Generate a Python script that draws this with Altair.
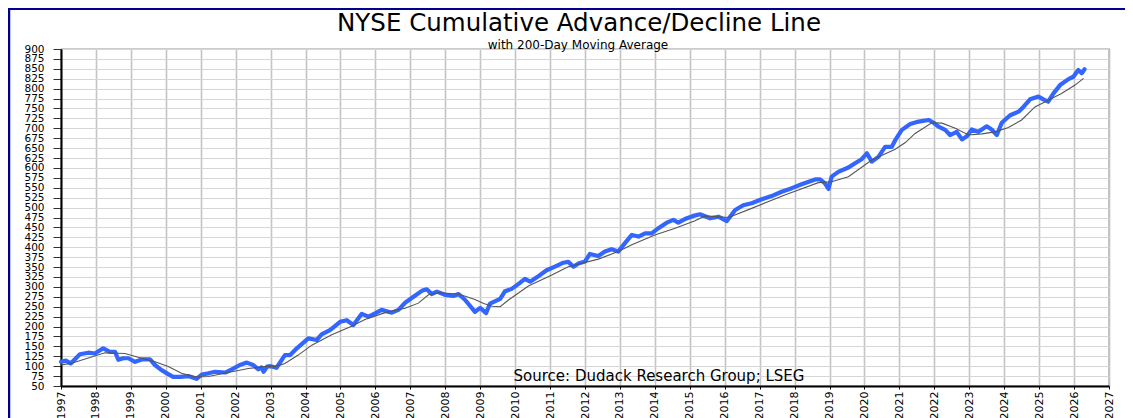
import altair as alt
import pandas as pd

# ---- data ----
ad_years = [1997.00, 1997.14, 1997.28, 1997.54, 1997.78, 1997.97, 1998.21, 1998.40, 1998.55, 1998.64,
            1998.78, 1998.93, 1999.12, 1999.31, 1999.55, 1999.69, 1999.88, 2000.07, 2000.21, 2000.41,
            2000.64, 2000.88, 2001.03, 2001.22, 2001.41, 2001.70, 2001.89, 2002.12, 2002.32, 2002.50,
            2002.65, 2002.74, 2002.80, 2002.90, 2003.00, 2003.17, 2003.41, 2003.56, 2003.75, 2004.08,
            2004.32, 2004.46, 2004.70, 2004.99, 2005.18, 2005.37, 2005.61, 2005.80, 2005.99, 2006.18,
            2006.47, 2006.66, 2006.85, 2007.09, 2007.33, 2007.47, 2007.61, 2007.76, 2007.99, 2008.23,
            2008.38, 2008.57, 2008.85, 2009.00, 2009.17, 2009.28, 2009.57, 2009.71, 2009.90, 2010.09,
            2010.28, 2010.43, 2010.62, 2010.90, 2011.14, 2011.38, 2011.52, 2011.67, 2011.81, 2012.00,
            2012.14, 2012.38, 2012.57, 2012.76, 2012.95, 2013.15, 2013.34, 2013.53, 2013.72, 2013.91,
            2014.10, 2014.34, 2014.53, 2014.67, 2014.86, 2015.10, 2015.29, 2015.58, 2015.82, 2016.06,
            2016.30, 2016.53, 2016.77, 2017.06, 2017.34, 2017.63, 2017.92, 2018.20, 2018.59, 2018.73,
            2018.87, 2018.97, 2019.06, 2019.25, 2019.54, 2019.73, 2019.92, 2020.07, 2020.21, 2020.40,
            2020.59, 2020.78, 2020.88, 2021.07, 2021.31, 2021.55, 2021.84, 2021.98, 2022.12, 2022.31,
            2022.45, 2022.64, 2022.79, 2022.93, 2023.07, 2023.26, 2023.50, 2023.64, 2023.79, 2023.93,
            2024.17, 2024.41, 2024.55, 2024.74, 2024.98, 2025.12, 2025.26, 2025.41, 2025.60, 2025.84,
            2025.98, 2026.12, 2026.22, 2026.30]
ad_values = [111, 114, 107, 130, 134, 132, 145, 136, 136, 116,
             120, 120, 111, 117, 117, 103, 90, 80, 73, 73,
             75, 68, 79, 82, 86, 84, 92, 103, 109, 103,
             92, 97, 86, 99, 100, 96, 128, 128, 145, 170,
             166, 180, 191, 212, 216, 204, 232, 225, 233, 242,
             235, 242, 260, 275, 290, 294, 282, 288, 280, 277,
             282, 267, 237, 247, 234, 258, 270, 289, 295, 307,
             320, 313, 324, 342, 351, 361, 363, 351, 359, 364,
             383, 378, 389, 395, 389, 411, 431, 427, 435, 435,
             448, 462, 469, 462, 471, 479, 483, 473, 477, 466,
             494, 506, 511, 521, 529, 540, 549, 559, 571, 571,
             561, 547, 578, 590, 601, 612, 622, 637, 616, 628,
             653, 653, 670, 696, 711, 717, 721, 714, 704, 696,
             683, 691, 672, 680, 697, 691, 705, 697, 683, 714,
             733, 742, 754, 773, 780, 773, 767, 788, 809, 824,
             830, 847, 839, 849]

ma_years = [1997.00, 1997.28, 1998.26, 1998.83, 1999.31, 1999.69, 2000.07, 2000.45, 2000.84, 2001.22,
            2001.79, 2002.36, 2002.94, 2003.13, 2003.41, 2003.79, 2004.18, 2004.75, 2005.32, 2005.70,
            2006.28, 2006.85, 2007.23, 2007.52, 2007.80, 2008.38, 2008.85, 2009.10, 2009.35, 2009.57,
            2009.81, 2010.38, 2011.05, 2011.52, 2012.38, 2012.95, 2013.34, 2014.00, 2014.58, 2015.15,
            2015.44, 2016.11, 2016.77, 2017.72, 2018.68, 2019.06, 2019.54, 2020.21, 2020.88, 2021.17,
            2021.45, 2021.93, 2022.22, 2022.60, 2022.98, 2023.36, 2023.74, 2024.12, 2024.50, 2024.88,
            2025.26, 2025.64, 2026.03, 2026.27]
ma_values = [103, 107, 134, 132, 120, 111, 99, 82, 73, 74,
             84, 94, 100, 99, 107, 128, 153, 179, 201, 218,
             235, 246, 259, 280, 285, 282, 268, 258, 251, 250,
             267, 302, 330, 351, 370, 389, 406, 431, 448, 467,
             479, 475, 498, 532, 563, 565, 578, 620, 647, 664,
             687, 714, 713, 700, 683, 686, 691, 702, 721, 754,
             771, 788, 809, 826]

x_ticks = list(range(1997, 2028))
y_ticks = list(range(50, 925, 25))

TITLE = "NYSE Cumulative Advance/Decline Line"
SUBTITLE = "with 200-Day Moving Average"
SOURCE = "Source: Dudack Research Group; LSEG"

FONT = "DejaVu Sans"

ad_df = pd.DataFrame({"year": ad_years, "value": ad_values})
ma_df = pd.DataFrame({"year": ma_years, "value": ma_values})

x_axis = alt.Axis(values=x_ticks, format="d", labelAngle=270, title=None,
                  labelFont=FONT, labelFontSize=11, labelColor="black",
                  tickSize=3, labelPadding=2, tickColor="black",
                  domainColor="black", domainWidth=2,
                  gridColor="#c4c4c4", gridWidth=1.6,
                  labelFlush=False, labelOverlap=False)
y_axis = alt.Axis(values=y_ticks, title=None,
                  labelFont=FONT, labelFontSize=10.5, labelColor="black",
                  tickSize=8, labelPadding=9, tickColor="#333333",
                  domainColor="black", domainWidth=2,
                  gridColor="#d6d6d6", gridWidth=1.2,
                  labelFlush=False, labelOverlap=False)
x_scale = alt.Scale(domain=[1997, 2027], nice=False, zero=False)
y_scale = alt.Scale(domain=[50, 900], nice=False, zero=False)


def xy():
    return dict(x=alt.X("year:Q", scale=x_scale, axis=x_axis),
                y=alt.Y("value:Q", scale=y_scale, axis=y_axis))


ad_line = alt.Chart(ad_df).mark_line(color="#3366ff", strokeWidth=4.2,
                                     strokeJoin="round", strokeCap="round").encode(**xy())
ma_line = alt.Chart(ma_df).mark_line(color="#555555", strokeWidth=1.1).encode(**xy())


def label(text, x, y, size):
    return alt.Chart(pd.DataFrame({"t": [text]})).mark_text(
        font=FONT, fontSize=size, color="black", align="center", baseline="alphabetic"
    ).encode(text="t:N", x=alt.value(x), y=alt.value(y))


title = label(TITLE, 518, -18, 24.5)
subtitle = label(SUBTITLE, 517, -0.5, 12)
source = label(SOURCE, 598, 332, 15)

frame_left = alt.Chart(pd.DataFrame({"k": [0]})).mark_rule(color="#00008b", strokeWidth=2.5).encode(
    x=alt.value(-52), y=alt.value(-41), y2=alt.value(369))
frame_top = alt.Chart(pd.DataFrame({"k": [0]})).mark_rule(color="#00008b", strokeWidth=2).encode(
    x=alt.value(-53), x2=alt.value(1064), y=alt.value(-40))

chart = alt.layer(ad_line, ma_line, title, subtitle, source, frame_left, frame_top).properties(
    width=1048, height=337,
    autosize=alt.AutoSizeParams(type="none"),
    padding={"left": 53, "top": 41, "right": 16, "bottom": 32},
    background="white",
).configure_view(stroke="#333333", strokeWidth=1.2
).configure_axis(labelOverlap=False)

chart.save("out.html", embed_options={"renderer": "svg", "actions": False})
